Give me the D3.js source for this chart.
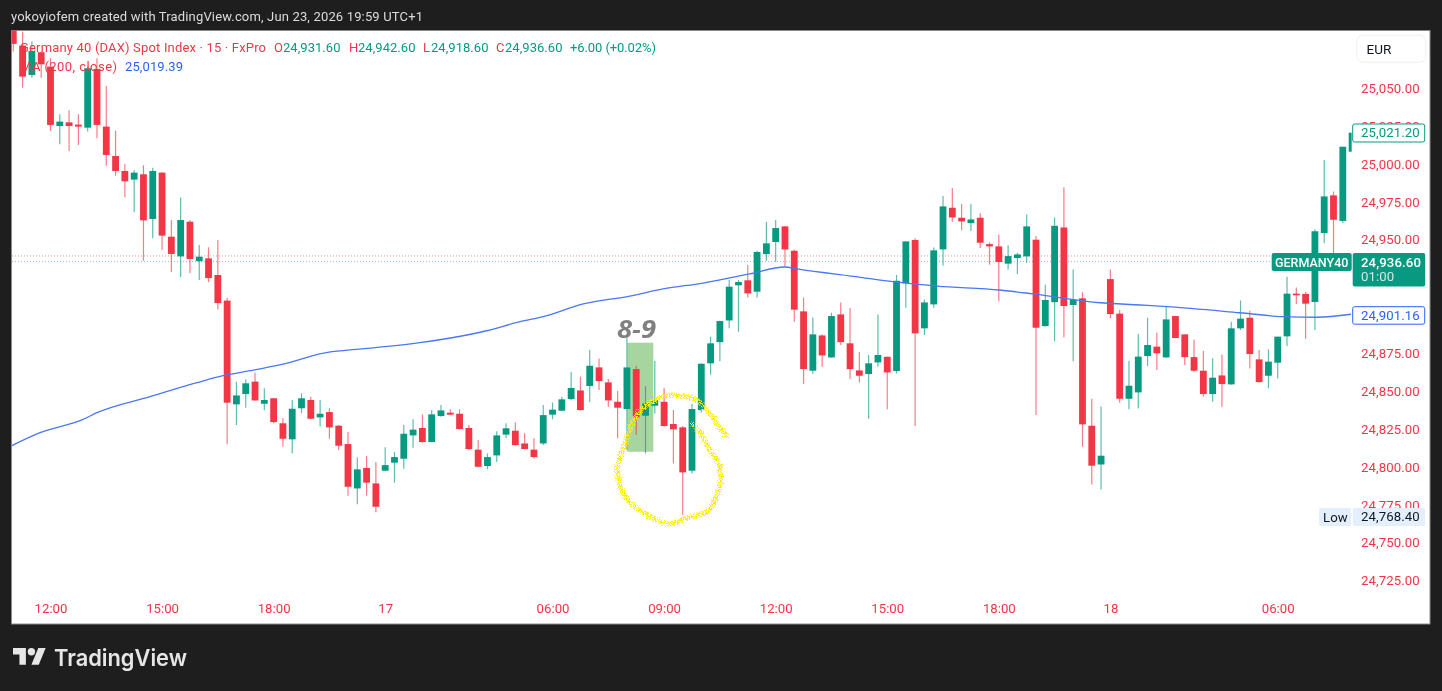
<!DOCTYPE html>
<html><head><meta charset="utf-8">
<script src="https://cdn.jsdelivr.net/npm/d3@7"></script>
<style>
html,body{margin:0;padding:0;background:#1e1e1e;overflow:hidden}
svg{display:block;filter:blur(.35px)}
text{font-family:Roboto,"Noto Sans",sans-serif}
.axis path,.axis line{display:none}
</style></head><body>
<script>
const opens=[25095.0,25078.2,25058.8,25073.8,25064.3,25025.1,25027.5,25026.0,25024.0,25062.7,25024.7,25005.3,24995.4,24989.7,24993.2,24963.7,24994.3,24952.0,24939.0,24961.9,24935.8,24937.7,24926.7,24909.8,24841.3,24848.1,24856.3,24841.7,24845.3,24828.8,24818.2,24838.7,24844.2,24832.7,24836.2,24827.2,24815.1,24785.8,24799.3,24789.1,24797.5,24802.8,24805.4,24820.8,24825.7,24816.4,24833.6,24835.8,24835.1,24825.7,24811.4,24800.6,24807.6,24821.3,24823.9,24815.5,24811.4,24815.5,24834.5,24837.1,24844.8,24850.5,24853.4,24865.7,24855.8,24843.0,24838.2,24864.6,24833.8,24840.4,24843.0,24828.3,24826.1,24797.5,24837.5,24868.4,24882.4,24896.7,24919.9,24923.2,24915.7,24940.5,24948.5,24958.8,24942.7,24902.7,24863.5,24886.8,24872.3,24900.7,24881.6,24863.7,24861.3,24869.0,24872.7,24863.3,24921.2,24949.8,24891.5,24907.3,24943.6,24971.1,24964.5,24961.0,24964.5,24947.1,24945.6,24934.2,24937.9,24939.0,24950.0,24893.0,24908.8,24958.1,24906.9,24911.3,24827.2,24801.6,24924.0,24901.2,24845.0,24849.2,24873.2,24879.4,24872.3,24899.6,24887.5,24872.5,24863.5,24848.1,24860.4,24854.5,24891.5,24898.5,24871.0,24860.2,24868.8,24886.2,24914.4,24914.2,24908.9,24954.4,24979.3,24962.4,25008.1];
const highs=[25096.0,25087.4,25080.8,25074.2,25069.8,25032.8,25035.5,25032.8,25064.3,25069.8,25051.5,25022.2,25000.0,24995.8,24999.1,24997.6,24994.5,24963.0,24977.8,24963.0,24946.5,24945.0,24949.8,24911.7,24856.3,24857.8,24862.2,24851.9,24845.3,24832.1,24844.2,24848.6,24846.4,24844.2,24838.7,24827.7,24823.0,24806.3,24807.2,24803.2,24812.9,24809.8,24827.7,24831.4,24834.7,24837.6,24840.9,24838.0,24838.0,24827.7,24817.7,24808.9,24823.5,24828.8,24829.4,24822.2,24818.9,24840.8,24842.6,24846.3,24862.6,24859.5,24877.2,24871.6,24858.0,24850.1,24886.0,24866.8,24853.4,24869.9,24852.3,24837.5,24827.0,24841.5,24868.4,24886.0,24896.5,24923.4,24923.4,24933.3,24942.7,24961.9,24963.0,24959.0,24943.6,24911.7,24898.7,24887.5,24901.8,24908.6,24904.9,24875.8,24873.9,24900.7,24872.8,24926.7,24948.9,24950.9,24910.6,24944.9,24978.8,24984.1,24973.6,24973.6,24967.4,24948.2,24953.5,24946.3,24941.4,24966.7,24952.4,24920.3,24964.7,24984.6,24930.4,24915.4,24845.0,24839.9,24930.4,24903.6,24870.1,24887.7,24898.5,24888.6,24905.8,24899.6,24887.5,24884.2,24876.5,24871.7,24874.3,24895.9,24909.8,24903.1,24877.2,24877.6,24886.0,24925.6,24918.5,24915.7,24956.9,25002.6,24981.9,25011.4,25020.7];
const lows=[25074.2,25050.4,25057.0,25057.0,25021.8,25013.0,25008.6,25012.6,25021.4,25017.0,24998.9,24992.3,24978.0,24968.1,24936.2,24950.9,24943.2,24928.7,24925.4,24927.8,24923.4,24922.1,24904.0,24814.9,24827.7,24839.1,24843.7,24837.6,24828.8,24813.3,24808.9,24835.4,24831.6,24826.6,24818.6,24811.1,24781.0,24775.3,24781.0,24770.0,24797.3,24789.6,24798.8,24812.7,24816.0,24816.2,24833.2,24834.3,24824.8,24811.1,24799.7,24798.4,24803.2,24819.1,24814.0,24811.6,24805.6,24814.4,24831.4,24836.9,24844.1,24837.3,24842.8,24850.7,24839.7,24819.0,24811.1,24821.0,24808.9,24835.3,24826.5,24802.3,24768.4,24795.7,24836.0,24860.9,24869.7,24891.5,24889.3,24911.9,24911.9,24936.1,24935.5,24932.2,24895.9,24854.7,24861.3,24866.2,24872.1,24880.5,24858.0,24855.8,24831.8,24866.2,24838.0,24861.7,24905.1,24827.0,24887.1,24905.1,24932.8,24961.9,24956.2,24955.7,24944.5,24933.5,24909.3,24930.4,24927.3,24934.8,24834.2,24892.6,24882.9,24885.5,24869.7,24813.3,24788.4,24785.1,24898.1,24842.4,24838.0,24838.6,24866.6,24864.0,24872.1,24884.9,24867.3,24862.9,24846.4,24843.1,24839.8,24854.3,24890.4,24865.0,24855.8,24851.9,24858.3,24879.8,24907.5,24884.7,24890.4,24947.6,24941.0,24960.8,25008.1];
const closes=[25079.3,25057.7,25074.6,25065.8,25025.8,25028.0,25025.1,25024.7,25063.2,25025.8,25006.0,24995.4,24988.6,24994.3,24962.8,24995.4,24952.7,24940.6,24963.0,24937.3,24938.8,24924.7,24908.2,24842.4,24847.2,24855.2,24843.9,24844.2,24829.6,24818.6,24838.4,24845.3,24831.8,24835.1,24826.1,24814.0,24786.9,24798.4,24789.6,24773.7,24801.2,24806.5,24821.9,24824.6,24816.4,24834.7,24837.3,24834.5,24825.0,24811.8,24800.1,24806.5,24820.8,24825.5,24814.4,24811.8,24806.5,24834.2,24837.8,24844.6,24852.1,24837.5,24866.8,24856.7,24843.9,24839.1,24865.7,24832.7,24841.9,24844.1,24827.0,24824.8,24796.4,24838.2,24868.1,24881.6,24896.3,24919.0,24922.1,24914.6,24941.9,24947.6,24957.7,24943.6,24903.8,24864.6,24887.5,24873.6,24899.6,24882.4,24864.6,24860.2,24868.4,24873.9,24862.4,24922.9,24948.9,24888.2,24908.6,24943.0,24972.0,24964.7,24962.1,24963.4,24948.0,24945.6,24935.3,24939.2,24940.3,24958.8,24891.9,24910.2,24959.2,24906.2,24910.4,24828.1,24800.8,24807.4,24900.9,24845.0,24853.6,24872.8,24880.5,24875.0,24897.4,24885.1,24872.5,24863.5,24848.1,24858.9,24854.7,24891.5,24897.9,24874.5,24856.0,24869.5,24886.0,24914.4,24913.3,24907.8,24955.6,24978.6,24963.2,25011.4,25020.7];
const maIndex=[-0.14,2.87,7.5,9,14.7,19.76,22.56,25.46,29,34.1,35.7,43.7,50.9,54.5,57,61.3,66.3,69.9,74.2,79.2,83,84.3,91.1,94.6,99.4,106.1,109.7,116.9,121.2,124.1,131.9,136.6,140.2,143.9];
const maValues=[24814.1,24822.6,24831.4,24835.8,24846.4,24855.6,24860.2,24863.5,24867.9,24876,24876.9,24882,24889.9,24895.9,24899.2,24907.6,24912.8,24917.5,24921.4,24927.4,24932,24930.7,24925.2,24922.3,24919.4,24916.8,24914.2,24908.4,24906.9,24905.8,24901.8,24899.2,24898.8,24900.8];
const priceTicks=[25050,25025,25000,24975,24950,24875,24850,24825,24800,24775,24750,24725];
const timeTickIndex=[4,16,28,40,58,70,82,94,106,118,136];
const timeTickLabels=["12:00","15:00","18:00","17","06:00","09:00","12:00","15:00","18:00","18","06:00"];
const askPrice=24939.3, bidPrice=24935.5;
const boxIndex=[66.04,68.84], boxPrice=[24882,24810];
const noteIndex=[76.9,76.0,74.6,73.5,72.4,70.6,69.0,67.7,66.7,65.9,65.0,65.3,66.1,67.4,69.2,70.6,72.4,74.6,75.8,76.0,74.9,73.9,73.0];
const notePrice=[24820,24825.7,24837.6,24844.2,24846.3,24847.5,24844.2,24838.9,24831,24817,24800,24787,24778,24771.5,24764.9,24762.3,24766.3,24770.4,24782.8,24800.1,24811.2,24822.4,24829];

const RED="#f23645",GREEN="#089981",W=1442,H=691;
const L=11.5,R=1430,T=30.5,B=624;
const x=d3.scaleLinear().domain([0,144]).range([13.3,1352.1]);
const y=d3.scaleLinear().domain([25000,24725]).range([164,580.5]);
const fmt=d3.format(",.2f");
const svg=d3.select("body").append("svg").attr("width",W).attr("height",H);

const spray=svg.append("defs").append("filter").attr("id","spray").attr("x","-20%").attr("y","-20%").attr("width","140%").attr("height","140%");
spray.append("feTurbulence").attr("type","fractalNoise").attr("baseFrequency",.85).attr("numOctaves",1).attr("seed",4).attr("result","n");
spray.append("feDisplacementMap").attr("in","SourceGraphic").attr("in2","n").attr("scale",7).attr("xChannelSelector","R").attr("yChannelSelector","G").attr("result","d");
spray.append("feColorMatrix").attr("in","n").attr("type","matrix").attr("values","0 0 0 0 0  0 0 0 0 0  0 0 0 0 0  0 0 0 14 -6.2").attr("result","m");
spray.append("feComposite").attr("in","d").attr("in2","m").attr("operator","in");

svg.append("rect").attr("width",W).attr("height",H).attr("fill","#1e1e1e");
svg.append("rect").attr("x",L).attr("y",T).attr("width",R-L).attr("height",B-T).attr("fill","#fff").attr("stroke","#8a8a8a").attr("stroke-width",1);
svg.append("text").attr("x",11).attr("y",21).attr("fill","#dcdcdc").attr("font-size",13).attr("textLength",412).text("yokoyiofem created with TradingView.com, Jun 23, 2026 19:59 UTC+1");

svg.append("clipPath").attr("id","plot").append("rect").attr("x",12).attr("y",30.5).attr("width",1339.6).attr("height",B-T);
const plot=svg.append("g").attr("clip-path","url(#plot)");

plot.append("line").attr("x1",12).attr("x2",1352).attr("y1",y(askPrice)).attr("y2",y(askPrice)).attr("stroke",RED).attr("stroke-opacity",.55).attr("stroke-dasharray","1 2");
plot.append("line").attr("x1",12).attr("x2",1352).attr("y1",y(bidPrice)).attr("y2",y(bidPrice)).attr("stroke","#2962ff").attr("stroke-opacity",.55).attr("stroke-dasharray","1 2");

plot.append("rect").attr("x",x(boxIndex[0])).attr("width",x(boxIndex[1])-x(boxIndex[0])).attr("y",y(boxPrice[0])).attr("height",y(boxPrice[1])-y(boxPrice[0])).attr("fill","#a7d5a0");

const idx=d3.range(opens.length);
const col=i=>closes[i]>=opens[i]?GREEN:RED;
plot.append("g").selectAll("line").data(idx).join("line")
  .attr("x1",i=>x(i)).attr("x2",i=>x(i)).attr("y1",i=>y(highs[i])).attr("y2",i=>y(lows[i]))
  .attr("stroke",col).attr("stroke-width",1.2).attr("stroke-opacity",.65);
plot.append("g").selectAll("rect").data(idx).join("rect")
  .attr("x",i=>x(i)-3.4).attr("width",6.8)
  .attr("y",i=>y(Math.max(opens[i],closes[i])))
  .attr("height",i=>Math.max(1.2,Math.abs(y(opens[i])-y(closes[i]))))
  .attr("fill",col);

plot.append("path").datum(maIndex.map((v,i)=>[v,maValues[i]]))
  .attr("fill","none").attr("stroke","#4a78f5").attr("stroke-width",1.3)
  .attr("d",d3.line().x(d=>x(d[0])).y(d=>y(d[1])).curve(d3.curveMonotoneX));

// hand-drawn annotation
const noteLine=d3.line().x(d=>x(d[0])).y(d=>y(d[1])).curve(d3.curveCatmullRom);
const notePts=noteIndex.map((v,i)=>[v,notePrice[i]]);
svg.append("path").attr("d",noteLine(notePts)).attr("fill","none").attr("stroke","#ffee00").attr("stroke-width",5).attr("filter","url(#spray)");

svg.append("text").attr("x",617).attr("y",338).attr("font-size",25).attr("font-weight",700).attr("font-style","italic").attr("fill","#808080").attr("textLength",39).attr("lengthAdjust","spacingAndGlyphs").style("font-family","'Open Sans'").text("8-9");

// axes
const yAxis=d3.axisRight(y).tickValues(priceTicks).tickSize(0).tickPadding(0).tickFormat(fmt);
svg.append("g").attr("class","axis").attr("transform","translate(1361,0)").call(yAxis)
  .call(g=>g.selectAll("text").attr("fill",RED).attr("font-size",13.2).style("letter-spacing",".1px"));
const xAxis=d3.axisBottom(x).tickValues(timeTickIndex).tickSize(0).tickPadding(0).tickFormat((d,i)=>timeTickLabels[i]);
svg.append("g").attr("class","axis").attr("transform","translate(0,604)").call(xAxis)
  .call(g=>g.selectAll("text").attr("fill",RED).attr("font-size",13.2));

// legend
const leg=svg.append("g").attr("font-size",13);
leg.append("text").attr("x",20).attr("y",51.5).attr("fill",RED).attr("textLength",246).text("Germany 40 (DAX) Spot Index · 15 · FxPro");
[["O",274,"24,931.60",283],["H",349,"24,942.60",358],["L",423,"24,918.60",431],["C",496,"24,936.60",505]].forEach(d=>{
  leg.append("text").attr("x",d[1]).attr("y",51.5).attr("fill",RED).text(d[0]);
  leg.append("text").attr("x",d[3]).attr("y",51.5).attr("fill",GREEN).attr("textLength",57.5).text(d[2]);
});
leg.append("text").attr("x",570).attr("y",51.5).attr("fill",GREEN).attr("textLength",86).text("+6.00 (+0.02%)");
leg.append("text").attr("x",20).attr("y",70.5).attr("fill",RED).attr("textLength",97).text("MA (200, close)");
leg.append("text").attr("x",125).attr("y",70.5).attr("fill","#2962ff").attr("textLength",58).text("25,019.39");

// EUR button
svg.append("rect").attr("x",1356.8).attr("y",35.2).attr("width",69).attr("height",27).attr("rx",6).attr("fill","#fff").attr("stroke","#f0f0f0");
svg.append("text").attr("x",1366.5).attr("y",53.5).attr("font-size",13.5).attr("fill","#131722").text("EUR");

// price labels
function tag(x0,y0,w,h,fill,stroke,rx){return svg.append("rect").attr("x",x0).attr("y",y0).attr("width",w).attr("height",h).attr("rx",rx||2).attr("fill",fill).attr("stroke",stroke||"none");}
function label(tx,ty,t,c,fs,a){return svg.append("text").attr("x",tx).attr("y",ty).attr("fill",c).attr("font-size",fs||13.2).attr("text-anchor",a||"start").style("letter-spacing",".1px").text(t);}
tag(1352.7,124,72,18,"#fff",GREEN);
label(1361,137.2,fmt(closes[closes.length-1]+.5),GREEN);
tag(1271.7,253,80,18,GREEN,null,2);
label(1311.7,266.5,"GERMANY40","#fff",12.5,"middle").style("font-weight",500).style("letter-spacing","0");
tag(1352.7,253,72.5,33.5,GREEN);
label(1361,266.5,"24,936.60","#fff").style("font-weight",500);
label(1361,281,"01:00","#cfe9e3");
tag(1352.7,306.7,72,17.5,"#fff","#2962ff");
label(1361,320,"24,901.16","#2962ff");
tag(1319,508,32,18,"#e3effd");
tag(1352.7,508,72.5,18,"#e3effd");
label(1323,522,"Low","#131722");
label(1361,521,fmt(d3.min(lows)),"#131722");

// logo
const logo=svg.append("g").attr("transform","translate(13,644.4) scale(.92)").attr("fill","#e6e6e6");
logo.append("path").attr("d","M14 22H7V11H0V4h14v18zM28 22h-8l7.5-18h8L28 22z");
logo.append("circle").attr("cx",20).attr("cy",8).attr("r",4);
svg.append("text").attr("x",54).attr("y",666).attr("font-size",23).attr("font-weight",600).attr("fill","#e6e6e6").style("font-family","Inter").attr("textLength",133).attr("lengthAdjust","spacingAndGlyphs").text("TradingView");
</script>
</body></html>
